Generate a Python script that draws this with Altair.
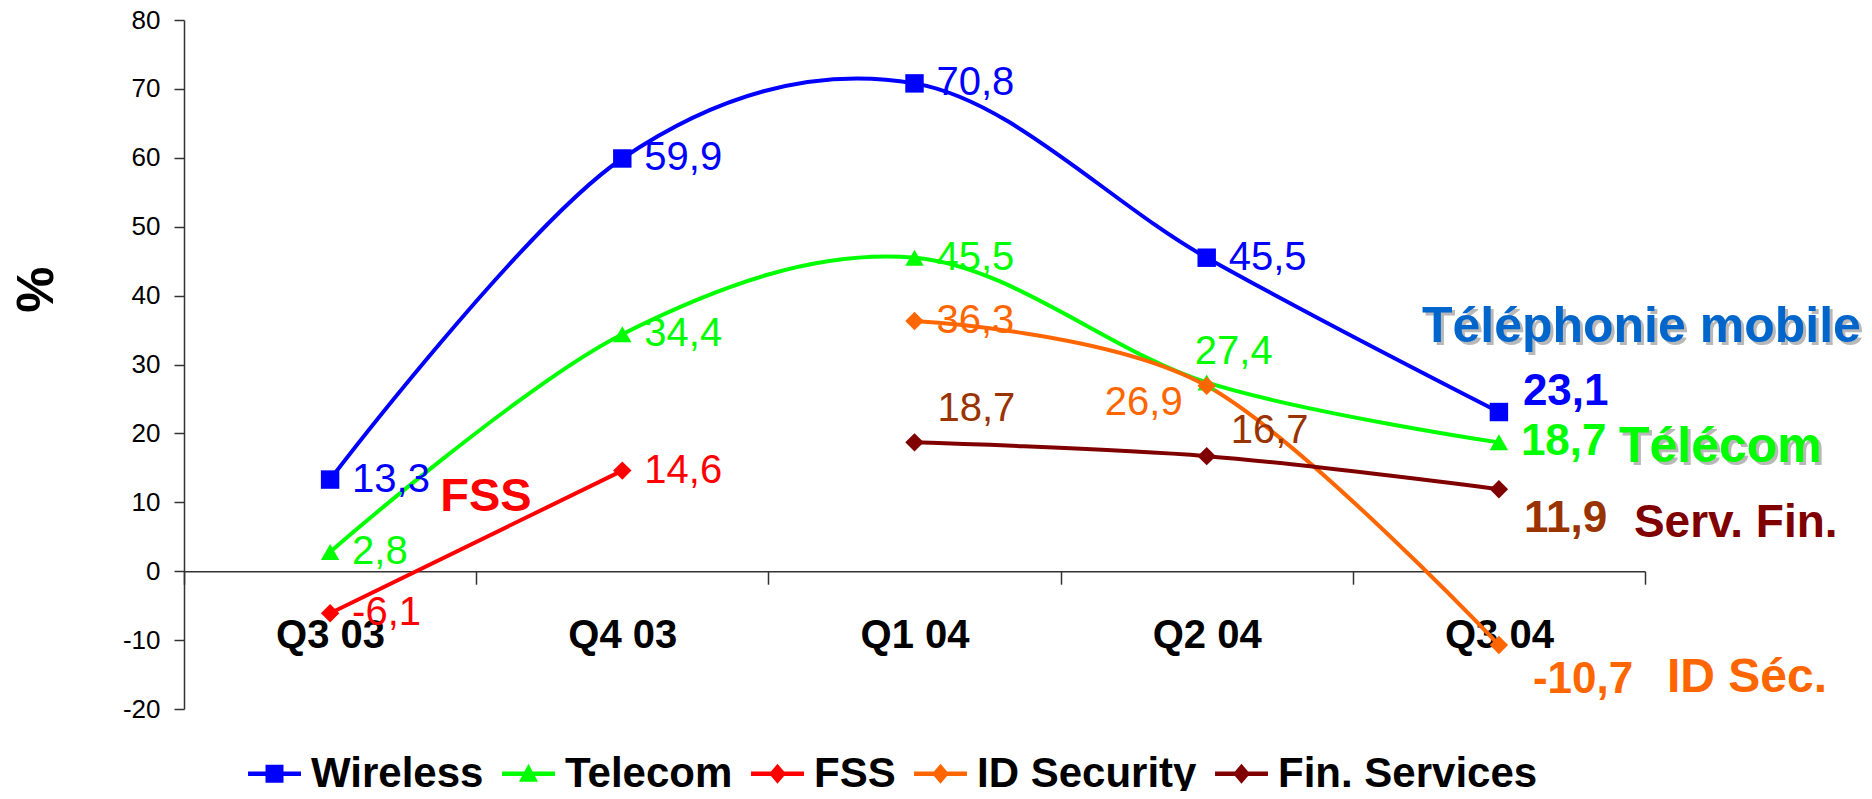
import altair as alt
import pandas as pd

# ---------------- data ----------------
quarters = ["Q3 03", "Q4 03", "Q1 04", "Q2 04", "Q3 04"]
series_names = ["Wireless", "Telecom", "FSS", "ID Security", "Fin. Services"]
wireless = [13.3, 59.9, 70.8, 45.5, 23.1]
telecom = [2.8, 34.4, 45.5, 27.4, 18.7]
fss = [-6.1, 14.6, None, None, None]
id_security = [None, None, 36.3, 26.9, -10.7]
fin_services = [None, None, 18.7, 16.7, 11.9]
y_tick_values = [-20, -10, 0, 10, 20, 30, 40, 50, 60, 70, 80]
y_domain = [-20, 80]
y_title = "%"

annotation_texts = ["Téléphonie mobile", "Télécom", "FSS", "ID Séc.", "Serv. Fin."]
annotation_anchor_series = ["Wireless", "Telecom", "FSS", "ID Security", "Fin. Services"]
annotation_anchor_quarter = ["Q3 04", "Q3 04", "Q4 03", "Q3 04", "Q3 04"]

# ---------------- styles ----------------
line_colors = ["#0000FF", "#00FF00", "#FF0000", "#FF6600", "#800000"]
label_colors = ["#0000FF", "#00FF00", "#FF0000", "#FF6600", "#993300"]
marker_shapes = ["square", "triangle-up", "diamond", "diamond", "diamond"]
annotation_colors = ["#0066CC", "#00FF00", "#FF0000", "#FF6600", "#800000"]
annotation_sizes = [50, 50, 47, 48, 46]
annotation_offsets = [(-77, -70), (120, 20), (-182, 40), (168, 47), (135, 48)]
annotation_shadow = [True, True, False, False, False]

bar = "M-1,-0.085H1V0.085H-1Z"
legend_paths = [
    bar + "M-0.34,-0.34H0.34V0.34H-0.34Z",
    bar + "M0,-0.38L0.36,0.3H-0.36Z",
    bar + "M0,-0.38L0.32,0L0,0.38L-0.32,0Z",
    bar + "M0,-0.38L0.32,0L0,0.38L-0.32,0Z",
    bar + "M0,-0.38L0.32,0L0,0.38L-0.32,0Z",
]

# (dx, dy, align, bold)
default_label_style = (22, 0, "left", False)
label_styles = {
    ("Telecom", "Q2 04"): (27, -30, "center", False),
    ("ID Security", "Q2 04"): (-24, 17, "right", False),
    ("Fin. Services", "Q1 04"): (23, -33, "left", False),
    ("Fin. Services", "Q2 04"): (24, -25, "left", False),
    ("Wireless", "Q3 04"): (24, -20, "left", True),
    ("Telecom", "Q3 04"): (22, 0, "left", True),
    ("Fin. Services", "Q3 04"): (25, 30, "left", True),
    ("ID Security", "Q3 04"): (34, 35, "left", True),
}

FONT = "Liberation Sans"
W, H = 1461, 689

# ---------------- table ----------------
rows = []
for name, vals in zip(series_names, [wireless, telecom, fss, id_security, fin_services]):
    for i, v in enumerate(vals):
        if v is None:
            continue
        rows.append({
            "series": name,
            "quarter": quarters[i],
            "value": v,
            "label": f"{v:.1f}".replace(".", ","),
        })
df = pd.DataFrame(rows)

# ---------------- scales / axes ----------------
x_scale = alt.Scale(type="band", domain=quarters, paddingInner=0, paddingOuter=0)
y_scale = alt.Scale(domain=y_domain, nice=False, zero=False)

x_axis = alt.Axis(
    tickBand="extent",
    offset=-H * (0 - y_domain[0]) / (y_domain[1] - y_domain[0]),
    tickSize=13,
    labelPadding=31,
    labelFont=FONT,
    labelFontWeight="bold",
    labelFontSize=40,
    labelColor="black",
    labelBaseline="top",
    labelAlign="center",
    labelAngle=0,
    labelOverlap=False,
    domainColor="#333333",
    tickColor="#333333",
    domainWidth=1.5,
    tickWidth=1.5,
    grid=False,
    title=None,
)
y_axis = alt.Axis(
    values=y_tick_values,
    labelExpr="datum.value < 0 ? '-' + abs(datum.value) : '' + datum.value",
    tickSize=10,
    labelPadding=14,
    labelFont=FONT,
    labelFontSize=26,
    labelColor="black",
    domainColor="#333333",
    tickColor="#333333",
    domainWidth=1.5,
    tickWidth=1.5,
    grid=False,
    title=y_title,
    titleFont=FONT,
    titleFontWeight="bold",
    titleFontSize=52,
    titleColor="black",
    titleAngle=270,
    titleAlign="center",
    titleBaseline="middle",
    titleX=-148,
    titleY=269,
)

X = alt.X("quarter:O", scale=x_scale, axis=x_axis, bandPosition=0.5, sort=quarters)
Y = alt.Y("value:Q", scale=y_scale, axis=y_axis)

legend = alt.Legend(
    title=None,
    orient="none",
    legendX=64,
    legendY=727,
    direction="horizontal",
    padding=0,
    symbolSize=2800,
    symbolStrokeWidth=0,
    symbolOpacity=1,
    labelFont=FONT,
    labelFontWeight="bold",
    labelFontSize=42,
    labelColor="black",
    labelOffset=10,
    columnPadding=18,
    labelLimit=0,
    symbolLimit=0,
    labelExpr="datum.label == 'FSS' ? datum.label + '\u2002\u2009' : datum.label",
)
color_scale = alt.Scale(domain=series_names, range=line_colors)
COLOR = alt.Color("series:N", scale=color_scale, legend=legend)

base = alt.Chart(df)

lines = base.mark_line(interpolate="cardinal", strokeWidth=4).encode(
    x=X, y=Y, color=COLOR, detail="series:N"
)

layers = [lines]

for name, shp in zip(series_names, marker_shapes):
    layers.append(
        base.transform_filter(alt.datum.series == name)
        .mark_point(filled=True, shape=shp, size=340, opacity=1, strokeWidth=0)
        .encode(x=X, y=Y, color=COLOR)
    )

# legend-only layer (no marks drawn)
layers.append(
    base.transform_filter("datum.value > 1000")
    .mark_point(filled=True)
    .encode(
        x=X,
        y=Y,
        color=COLOR,
        shape=alt.Shape("series:N", scale=alt.Scale(domain=series_names, range=legend_paths), legend=legend),
    )
)

# value labels
fill_enc = alt.Fill("series:N", scale=alt.Scale(domain=series_names, range=label_colors), legend=None)
df["style"] = [label_styles.get((s, q), default_label_style) for s, q in zip(df["series"], df["quarter"])]
for style in sorted(set(df["style"]), key=str):
    dx, dy, align, bold = style
    sub = df[df["style"] == style].drop(columns=["style"])
    layers.append(
        alt.Chart(sub)
        .mark_text(
            dx=dx,
            dy=dy,
            align=align,
            baseline="middle",
            font=FONT,
            fontSize=44 if bold else 40,
            fontWeight="bold" if bold else "normal",
        )
        .encode(x=X, y=Y, text="label:N", fill=fill_enc)
    )

# series annotations anchored to series points
for txt, s, q, col, size, (dx, dy), shadow in zip(
    annotation_texts, annotation_anchor_series, annotation_anchor_quarter,
    annotation_colors, annotation_sizes, annotation_offsets, annotation_shadow,
):
    anchor = df[(df["series"] == s) & (df["quarter"] == q)][["quarter", "value"]].copy()
    anchor["text"] = txt
    if shadow:
        layers.append(
            alt.Chart(anchor)
            .mark_text(dx=dx + 3, dy=dy + 3, align="left", baseline="alphabetic",
                       font=FONT, fontSize=size, fontWeight="bold", color="#B8B8B8")
            .encode(x=X, y=Y, text="text:N")
        )
    layers.append(
        alt.Chart(anchor)
        .mark_text(dx=dx, dy=dy, align="left", baseline="alphabetic",
                   font=FONT, fontSize=size, fontWeight="bold", color=col)
        .encode(x=X, y=Y, text="text:N")
    )

chart = (
    alt.layer(*layers)
    .properties(
        width=W,
        height=H,
        padding={"left": 176, "top": 12, "right": 219, "bottom": 82},
        autosize=alt.AutoSizeParams(type="none"),
        background="white",
    )
    .configure_view(stroke=None)
)

chart.save("out.html", embed_options={"renderer": "svg", "actions": False})
